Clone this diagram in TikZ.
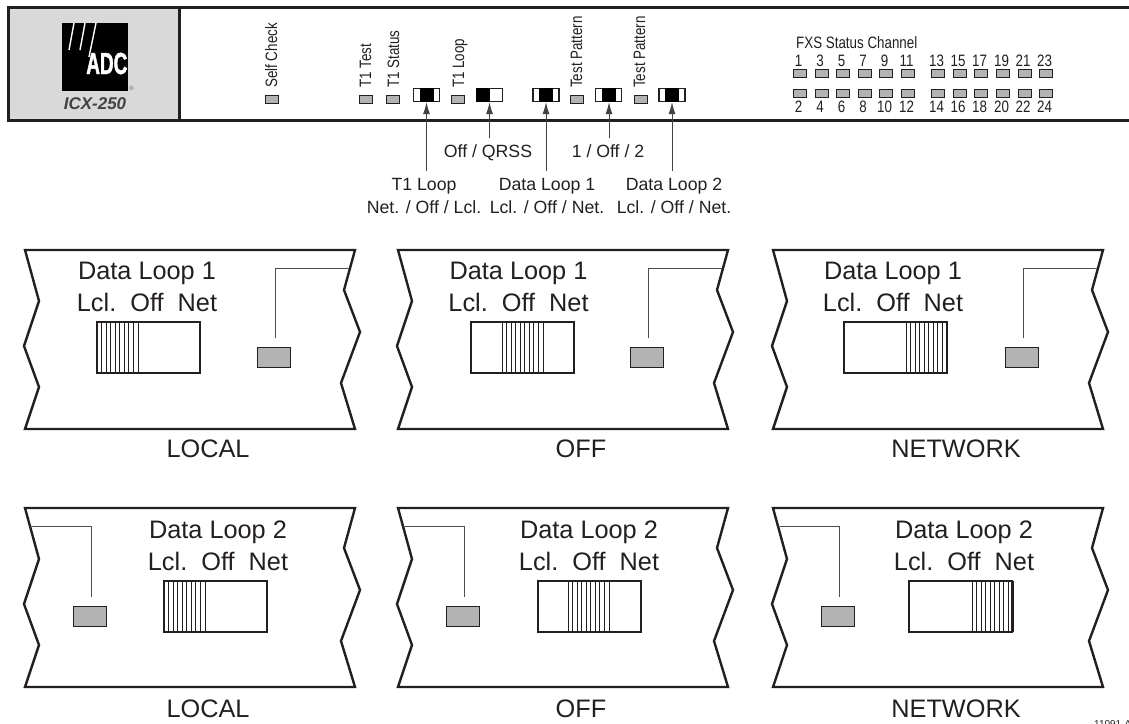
\documentclass[tikz,border=0pt]{standalone}
\usepackage{fontspec}
\setmainfont{Liberation Sans}
\newfontfamily\narrowfont[FakeStretch=0.81]{Liberation Sans}
\newfontfamily\logofont[FakeStretch=0.62,FakeBold=1.5]{Liberation Sans Bold}
\usetikzlibrary{arrows.meta}
\definecolor{ink}{HTML}{231F20}
\definecolor{ledgray}{HTML}{B3B3B3}
\definecolor{logogray}{HTML}{D9D9D9}
\tikzset{
  biglabel/.style={font=\fontsize{25.3}{30}\selectfont,text=ink,anchor=base,inner sep=0pt},
  midlabel/.style={font=\fontsize{17.7}{21}\selectfont,text=ink,anchor=base,inner sep=0pt},
  tinylabel/.style={font=\narrowfont\fontsize{16.5}{18}\selectfont,text=ink,anchor=base,inner sep=0pt},
  uplabel/.style={tinylabel,rotate=90,anchor=base west},
  led/.style={draw=ink,fill=ledgray,line width=1pt,minimum width=13pt,minimum height=8pt,inner sep=0pt},
  bigled/.style={led,minimum width=33pt,minimum height=20pt},
  swbox/.style={draw=ink,fill=white,line width=1.2pt,minimum width=26pt,minimum height=13pt,inner sep=0pt},
  swknob/.style={fill=black,minimum width=14pt,minimum height=14pt,inner sep=0pt},
  pointer/.style={draw=ink!85,line width=1pt,-{Latex[length=12pt,width=7pt]}},
  edgeline/.style={draw=ink,line width=2.4pt,line join=miter},
  leader/.style={draw=ink!80,line width=0.9pt},
  slider/.style={draw=ink,line width=1.1pt,fill=white},
  hatchline/.style={draw=ink,line width=0.8pt}
}
%% outline of one cut-away panel, origin at its top left corner
\newcommand{\panelshape}{%
  \draw[edgeline] (0,0) -- (330,0) -- (319,40) -- (335,82) -- (316,133) -- (330,179)
    -- (0,179) -- (14,137) -- (-1,96) -- (14,51) -- cycle;}
%% slider: left edge, top edge, left edge of the ridged part
\newcommand{\slidershape}[3]{%
  \draw[slider] (#1,#2) rectangle ++(103,51);
  \foreach \k in {0,...,9}
    \draw[hatchline] ({#3+4.55*\k},#2) -- ++(0,51);}
\begin{document}
\begin{tikzpicture}[x=1pt,y=-1pt]
    \useasboundingbox (0,0) rectangle (1129,723);
    %% front panel
    \fill[logogray] (8,7) rectangle (179,120);
    \draw[ink,line width=3pt] (1129,7) -- (8,7) -- (8,120) -- (1129,120);
    \draw[ink,line width=3pt] (179,7) -- (179,120);
    %% logo
    \fill[black] (62,23) rectangle (128,91);
    \draw[white,line width=1.4pt] (69,50) -- (74,23);
    \draw[white,line width=1.4pt] (80,50) -- (85,23);
    \draw[white,line width=1.4pt] (89,57) -- (96,23);
    \node[anchor=base east,inner sep=0pt,text=white,font=\logofont\fontsize{30.5}{32}\selectfont] (logo) at (127.5,74) {ADC};
    \node[inner sep=0pt,text=ink!70,font=\fontsize{6}{7}\selectfont] (reg) at (131.5,88) {®};
    \node[anchor=base,inner sep=0pt,text=ink!85,font=\bfseries\itshape\fontsize{17}{20}\selectfont] (model) at (95,109) {ICX-250};
    %% status lamps
    \foreach \nm/\lx/\bx/\txt in {selfchk/272/277/Self Check,tonetest/366/371/T1 Test,tonestat/393/399/T1 Status,
        toneloop/458/464/T1 Loop,testa/576.5/582/Test Pattern,testb/640.5/645/Test Pattern}{
      \node[led] (led\nm) at (\lx,99) {};
      \node[uplabel] (lbl\nm) at (\bx,88) {\txt};
    }
    %% switches
    \foreach \nm/\sx/\kx in {a/426.5/426.5,b/489.5/483,c/546/546,d/608.5/609,e/672/672}{
      \node[swbox] (sw\nm) at (\sx,95) {};
      \node[swknob] (knob\nm) at (\kx,95) {};
    }
    %% switch captions
    \node[midlabel] (capb) at (488,157) {Off / QRSS};
    \node[midlabel] (capd) at (608,157) {1 / Off / 2};
    \node[midlabel] (capa) at (424,190) {T1 Loop};
    \node[midlabel] (capaa) at (424,213) {Net. / Off / Lcl.};
    \node[midlabel] (capc) at (547,190) {Data Loop 1};
    \node[midlabel] (capcc) at (547,213) {Lcl. / Off / Net.};
    \node[midlabel] (cape) at (674,190) {Data Loop 2};
    \node[midlabel] (capee) at (674,213) {Lcl. / Off / Net.};
    %% arrows
    \coordinate (taila) at (426.5,171);
    \coordinate (tailb) at (489.5,138);
    \coordinate (tailc) at (546,171);
    \coordinate (taild) at (609,138);
    \coordinate (taile) at (672,171);
    \foreach \nm in {a,b,c,d,e}
      \draw[pointer] (tail\nm) -- (tail\nm |- swa.south);
    %% channel lamps
    \node[tinylabel,anchor=base west] (fxs) at (796,48) {FXS Status Channel};
    \foreach \lx/\up/\dn in {800/1/2,821.5/3/4,843/5/6,864.5/7/8,886/9/10,908/11/12,
        938/13/14,959.5/15/16,981/17/18,1003/19/20,1024.5/21/22,1046/23/24}{
      \node[led] (led\up) at (\lx,73.5) {};
      \node[led] (led\dn) at (\lx,93.5) {};
      \node[tinylabel] (num\up) at (\lx-1.5,66) {\up};
      \node[tinylabel] (num\dn) at (\lx-1.5,112) {\dn};
    }
    %% data loop 1 panels
    \foreach \ox/\sx/\hx/\tx/\txt in {25/72/72/122/LOCAL,398/73/104/120.5/OFF,773/71/133/120/NETWORK}{
      \begin{scope}[shift={(\ox,250)}]
        \panelshape
        \node[biglabel] (one\ox) at (\tx,29) {Data Loop 1};
        \node[biglabel] (oneb\ox) at (\tx,61) {Lcl.\ \ Off\ \ Net};
        \slidershape{\sx}{72}{\hx}
        \node[bigled] (ledone\ox) at (248.5,107) {};
        \coordinate (freeone\ox) at (250,88);
        \coordinate (edgeone\ox) at (324,18);
        \draw[leader] (freeone\ox) |- (edgeone\ox);
      \end{scope}
      \node[biglabel] (stone\ox) at (\ox+183,457.5) {\txt};
    }
    %% data loop 2 panels
    \foreach \ox/\sx/\hx/\tx/\txt in {25/139/139/193/LOCAL,398/140/170/191/OFF,773/136/199/191/NETWORK}{
      \begin{scope}[shift={(\ox,508)}]
        \panelshape
        \node[biglabel] (two\ox) at (\tx,30) {Data Loop 2};
        \node[biglabel] (twob\ox) at (\tx,62) {Lcl.\ \ Off\ \ Net};
        \slidershape{\sx}{73}{\hx}
        \node[bigled] (ledtwo\ox) at (65,108) {};
        \coordinate (freetwo\ox) at (66.5,89);
        \coordinate (edgetwo\ox) at (5,18);
        \draw[leader] (freetwo\ox) |- (edgetwo\ox);
      \end{scope}
      \node[biglabel] (sttwo\ox) at (\ox+183,717) {\txt};
    }
    %% figure number, cut by the page edge
    \node[anchor=base west,inner sep=0pt,text=ink,font=\fontsize{10}{12}\selectfont] (fignum) at (1094,727.3) {11091-A};
\end{tikzpicture}
\end{document}
